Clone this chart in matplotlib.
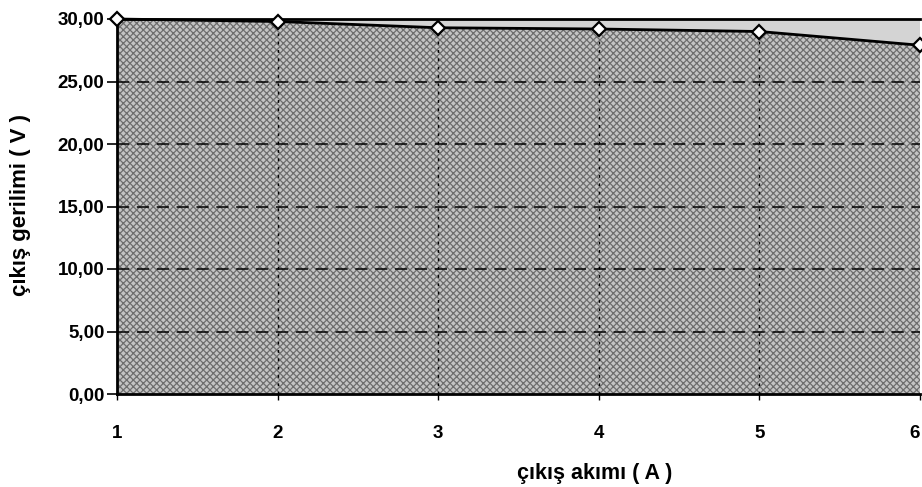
import matplotlib
matplotlib.use("Agg")
import matplotlib.pyplot as plt
from matplotlib.ticker import FixedLocator

plt.rcParams['font.family'] = ['Liberation Sans', 'DejaVu Sans']
plt.rcParams['hatch.linewidth'] = 0.9

current = [1, 2, 3, 4, 5, 6]
voltage = [30.0, 29.8, 29.3, 29.2, 29.0, 27.9]
yticks = [0, 5, 10, 15, 20, 25, 30]
ytick_labels = ["0,00", "5,00", "10,00", "15,00", "20,00", "25,00", "30,00"]
xtick_labels = ["1", "2", "3", "4", "5", "6"]

fig = plt.figure(figsize=(9.22, 4.87), dpi=100)
ax = fig.add_axes([117/922, 93/487, 803/922, 375/487])

ax.set_facecolor('#d4d4d4')
ax.fill_between(current, 0, voltage, facecolor='#c4c4c4', edgecolor='#6e6e6e',
                hatch='xxxxx', linewidth=0, zorder=1)

for y in yticks[1:-1]:
    ax.axhline(y, color='black', lw=1.1, ls=(0, (8, 5)), zorder=2)
for x in current[1:-1]:
    ax.axvline(x, color='black', lw=1.0, ls=(0, (2, 4)), zorder=2)

ax.plot(current, voltage, color='black', lw=2, marker='D', ms=7,
        mfc='white', mec='black', mew=1.6, zorder=4, clip_on=False)

ax.set_xlim(1, 6)
ax.set_ylim(0, 30)
ax.yaxis.set_major_locator(FixedLocator(yticks))
ax.set_yticklabels(ytick_labels, fontweight='bold')
ax.xaxis.set_major_locator(FixedLocator(current))
ax.set_xticklabels(xtick_labels, fontweight='bold')
ax.get_xticklabels()[-1].set_horizontalalignment('right')

ax.tick_params(axis='y', direction='out', length=7, width=1.2, labelsize=13.5, pad=2)
ax.tick_params(axis='x', direction='out', length=4, width=1, labelsize=13.5, pad=18)

for s in ['left', 'bottom', 'top']:
    ax.spines[s].set_linewidth(2)
    ax.spines[s].set_color('black')
ax.spines['right'].set_visible(False)

ax.set_xlabel('çıkış akımı ( A )', fontsize=15.5, fontweight='bold')
ax.xaxis.set_label_coords((595 - 117) / 803, -0.185)
ax.set_ylabel('çıkış gerilimi ( V )', fontsize=16, fontweight='bold')
ax.yaxis.set_label_coords((31 - 117) / 803, (394 - 205) / 375)

fig.savefig('out.png', dpi=100)
